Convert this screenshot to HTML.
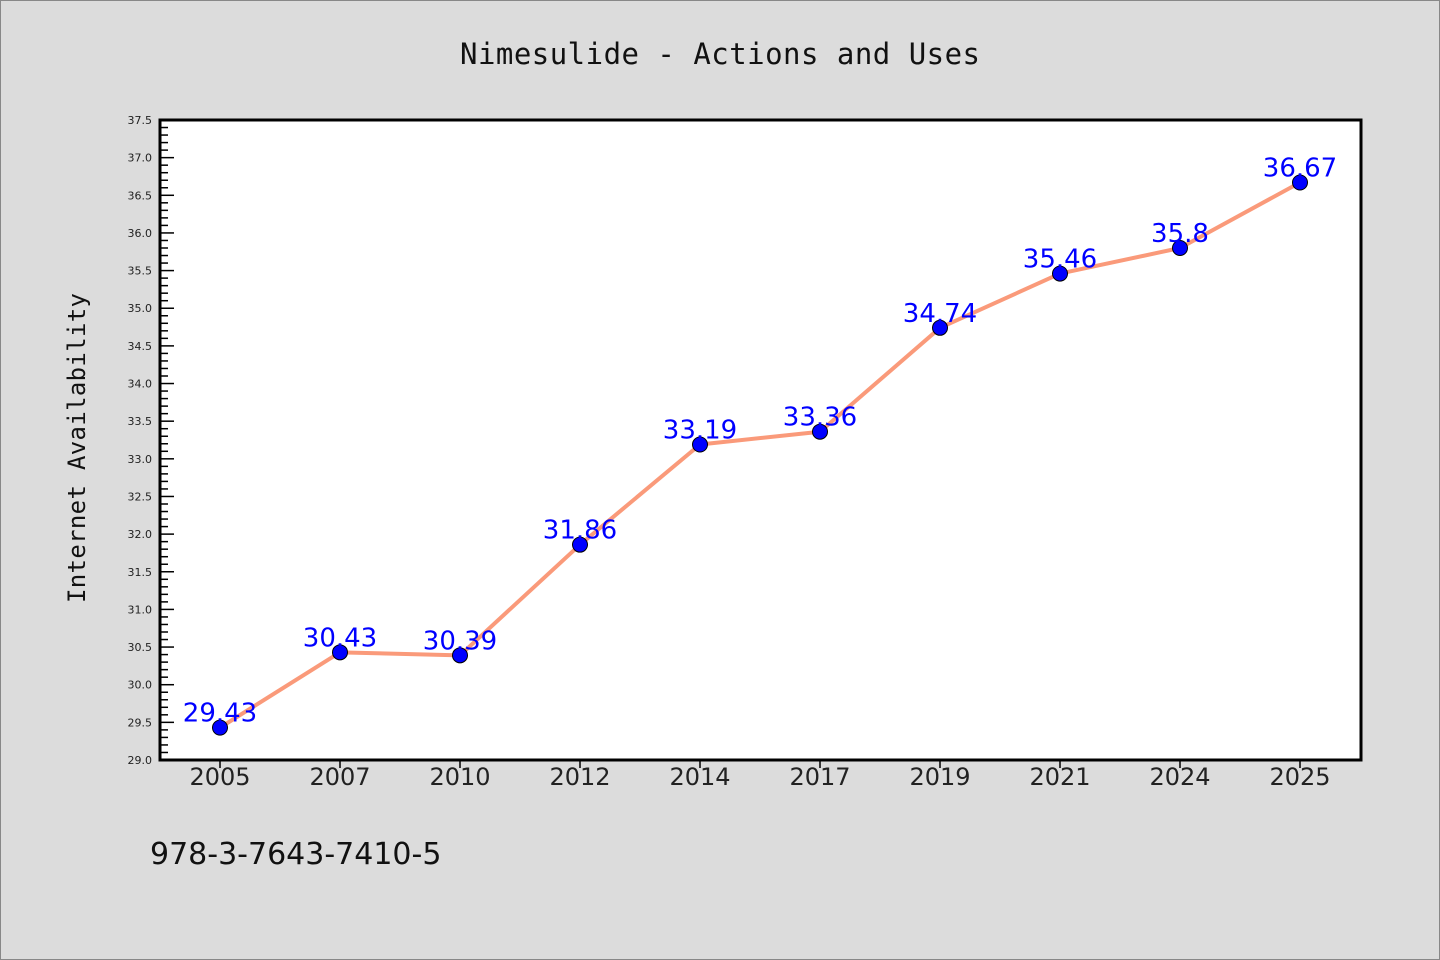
<!DOCTYPE html>
<html><head><meta charset="utf-8"><style>
html,body{margin:0;padding:0;background:#dcdcdc;}
svg{display:block;font-family:"DejaVu Sans","Liberation Sans",sans-serif;}
</style></head><body>
<svg id="chart" width="1440" height="960" xmlns="http://www.w3.org/2000/svg">
<rect x="0.5" y="0.5" width="1439" height="959" fill="#dcdcdc" stroke="#888"/>
<text x="720" y="64" text-anchor="middle" font-family="DejaVu Sans Mono, monospace" font-size="29" textLength="520" fill="#111">Nimesulide - Actions and Uses</text>
<rect x="160" y="120" width="1201" height="640" fill="#fff"/>
<text transform="translate(85,448) rotate(-90)" text-anchor="middle" font-family="DejaVu Sans Mono, monospace" font-size="24" textLength="310" fill="#111">Internet Availability</text>
<text x="150" y="864" font-size="30" fill="#111">978-3-7643-7410-5</text>
<g id="axes"></g>
<g id="series"></g>
<rect x="160" y="120" width="1201" height="640" fill="none" stroke="#000" stroke-width="3"/>
</svg>
<script>
const categories=["2005","2007","2010","2012","2014","2017","2019","2021","2024","2025"];
const values=[29.43,30.43,30.39,31.86,33.19,33.36,34.74,35.46,35.8,36.67];
const valueLabels=["29.43","30.43","30.39","31.86","33.19","33.36","34.74","35.46","35.8","36.67"];
const yMin=29.0,yMax=37.5;
const NS="http://www.w3.org/2000/svg";
const X0=160,X1=1361,Y0=760,Y1=120;
function xs(i){return 220+i*(1300-220)/(categories.length-1);}
function ys(v){return Y0-(v-yMin)/(yMax-yMin)*(Y0-Y1);}
function mk(tag,attrs,parent){const e=document.createElementNS(NS,tag);for(const k in attrs)e.setAttribute(k,attrs[k]);parent.appendChild(e);return e;}
const axes=document.getElementById('axes'),series=document.getElementById('series');
for(let k=0;k<=Math.round((yMax-yMin)*10);k++){
  const v=yMin+k*0.1,y=ys(v),major=k%5===0;
  const t=mk('line',{x1:X0,x2:X0+(major?14:8),y1:y,y2:y,stroke:'#000','stroke-width':1.5},axes);
  
  
  if(major){
    const l=mk('text',{x:152,y:y+4,'text-anchor':'end','font-size':11,fill:'#222'},axes);
    l.textContent=v.toFixed(1);
    
    
  }
}
categories.forEach((c,i)=>{
  const x=xs(i);
  const t=mk('line',{x1:x,x2:x,y1:Y0,y2:Y0+8,stroke:'#000','stroke-width':1.5},axes);
  
  
  const l=mk('text',{x:x,y:785,'text-anchor':'middle','font-size':24,fill:'#222'},axes);
  l.textContent=c;
  
  
});
const pts=values.map((v,i)=>xs(i)+','+ys(v)).join(' ');
const line=mk('polyline',{points:pts,fill:'none',stroke:'#fa9a7a','stroke-width':4,'stroke-linejoin':'round'},series);


values.forEach((v,i)=>{
  const x=xs(i),y=ys(v);
  const c=mk('circle',{cx:x,cy:y,r:7.5,fill:'#0000ff',stroke:'#000','stroke-width':1},series);
  
  
});
values.forEach((v,i)=>{
  const x=xs(i),y=ys(v);
  const l=mk('text',{x:x,y:y-6,'text-anchor':'middle','font-size':26,fill:'#0000ff'},series);
  l.textContent=valueLabels[i];
  
  
});
</script>
</body></html>
